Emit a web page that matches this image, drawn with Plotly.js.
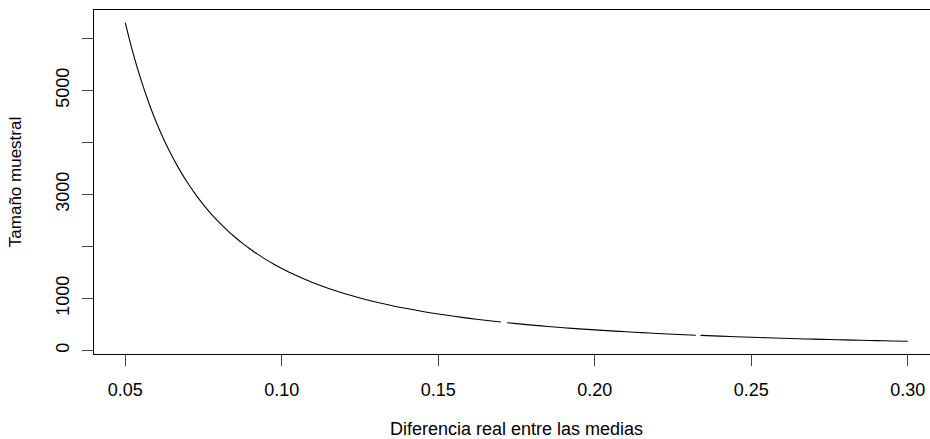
<!DOCTYPE html>
<html>
<head>
<meta charset="utf-8">
<script src="https://cdn.plot.ly/plotly-3.0.1.min.js"></script>
<style>
html,body{margin:0;padding:0;overflow:hidden;background:#fff;}
#plot{width:945px;height:439px;}
</style>
</head>
<body>
<div id="plot"></div>
<script>
// Difference between means (x) and required sample size (y)
const diferencia = [0.05,0.0525,0.055,0.0575,0.06,0.0625,0.065,0.0675,0.07,0.0725,0.075,0.0775,0.08,0.0825,0.085,0.0875,0.09,0.0925,0.095,0.0975,0.10,
  0.105,0.11,0.115,0.12,0.125,0.13,0.135,0.14,0.145,0.15,0.155,0.16,0.165,0.170,0.171,0.172,0.175,0.18,0.185,0.19,0.195,0.20,
  0.205,0.21,0.215,0.22,0.225,0.2323,0.233,0.2338,0.24,0.245,0.25,0.255,0.26,0.265,0.27,0.275,0.28,0.285,0.29,0.295,0.30];
const tamano = [6300,5714,5207,4764,4375,4032,3728,3457,3214,2996,2800,2622,2461,2314,2180,2057,1944,1841,1745,1657,1575,
  1429,1302,1191,1094,1008,932,864,804,749,700,656,615,579,545,null,532,514,486,460,436,414,394,
  375,357,341,325,311,292,null,288,273,262,252,242,233,224,216,208,201,194,187,181,175];

const xTickVals = [0.05,0.10,0.15,0.20,0.25,0.30];
const xTickText = ['0.05','0.10','0.15','0.20','0.25','0.30'];
const yTickVals = [0,1000,2000,3000,4000,5000,6000];
const yTickText = ['0','1000','','3000','','5000',''];

const font = {family:'"Liberation Sans", Arial, Helvetica, sans-serif', size:18, color:'#000'};
const tfont = {family:'"Liberation Sans", Arial, Helvetica, sans-serif', size:17, color:'#000'};

const trace = {
  x: diferencia, y: tamano, type:'scatter', mode:'lines',
  line:{color:'#000', width:1.1, shape:'spline', smoothing:1},
  connectgaps:false, hoverinfo:'skip'
};

const layout = {
  width:945, height:439,
  margin:{l:94, r:6, t:10, b:85, pad:0},
  paper_bgcolor:'#fff', plot_bgcolor:'#fff',
  font: font,
  showlegend:false,
  xaxis:{
    range:[0.04,0.31], tickmode:'array', tickvals:xTickVals, ticktext:xTickText,
    ticks:'outside', ticklen:11, tickwidth:1, tickcolor:'#444',
    showline:true, mirror:true, linecolor:'#000', linewidth:1.2,
    showgrid:false, zeroline:false, ticklabelstandoff:8,
    tickfont:font,
    title:{text:'Diferencia real entre las medias', font:font, standoff:28}
  },
  yaxis:{
    range:[-70,6547], tickmode:'array', tickvals:yTickVals, ticktext:yTickText,
    ticks:'outside', ticklen:11, tickwidth:1, tickcolor:'#444',
    showline:true, mirror:true, linecolor:'#000', linewidth:1.2,
    showgrid:false, zeroline:false, tickangle:-90, ticklabelstandoff:6,
    tickfont:font,
    title:{text:'Tamaño muestral', font:tfont, standoff:26}
  }
};

Plotly.newPlot('plot', [trace], layout, {staticPlot:true, displayModeBar:false});
</script>
</body>
</html>
